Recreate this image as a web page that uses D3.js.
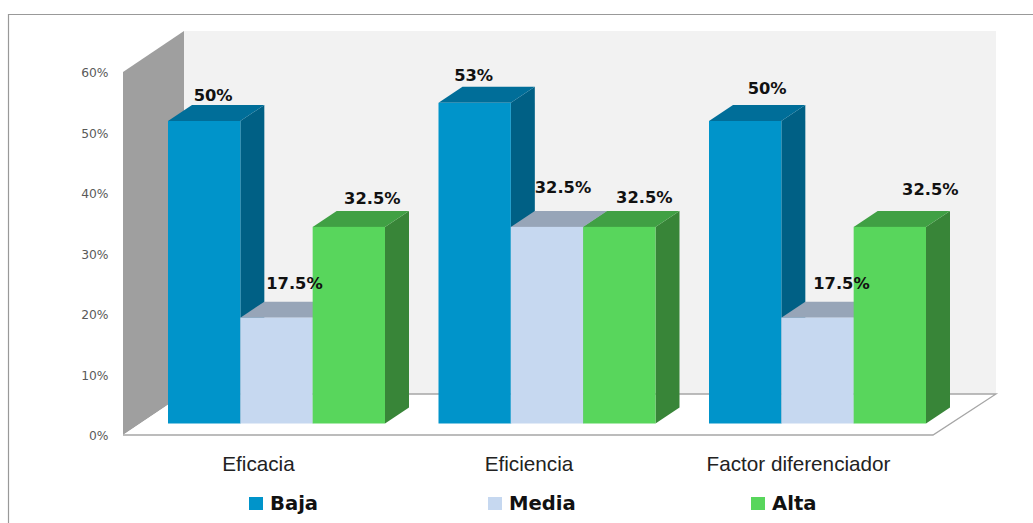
<!DOCTYPE html>
<html><head><meta charset="utf-8">
<script src="https://cdn.jsdelivr.net/npm/d3@7"></script>
<style>html,body{margin:0;padding:0;background:#fff;overflow:hidden}svg{display:block}</style>
</head><body><svg id="c" width="1033" height="523"></svg>
<script>
const categories = ["Eficacia", "Eficiencia", "Factor diferenciador"];
const seriesNames = ["Baja", "Media", "Alta"];
const baja = [50, 53, 50];
const media = [17.5, 32.5, 17.5];
const alta = [32.5, 32.5, 32.5];
const labelText = [["50%","17.5%","32.5%"],["53%","32.5%","32.5%"],["50%","17.5%","32.5%"]];
const yTicks = [0,10,20,30,40,50,60];
const seriesValues = [baja, media, alta];

// styling and layout, separate from the data
const front = ["#0094CA","#C6D8F0","#58D65C"];
const topFace = ["#006E99","#97A5B8","#40A044"];
const sideFace = ["#006085","#8496AE","#388538"];
const labelNudge = [[[9,-25.5],[18,-34],[23.5,-28]],[[-1,-27],[16,-39],[25,-29]],[[22,-32.5],[24,-34],[40.5,-37]]];
const legendX = [249,488,751];

const svg = d3.select("#c");
const y = d3.scaleLinear().domain([0,60]).range([435,72]);
const x0 = d3.scaleBand().domain(categories).range([141.25,952.75]);
const x1 = d3.scaleBand().domain(seriesNames).range([26.75,243.75]);
const depthX = 24, depthY = 16, baseLift = 11.5;
const wallX = 61, wallY = 41, floorEnd = 933, backEnd = 996;
const poly = p => p.map(q => q.join(",")).join(" ");

// border (open on the right and bottom)
svg.append("path").attr("d","M8.5,523V14.5H1033").attr("fill","none").attr("stroke","#999").attr("stroke-width",1.2);

// back wall
svg.append("rect").attr("x",123+wallX).attr("y",y(60)-wallY)
  .attr("width",backEnd-123-wallX).attr("height",y(0)-y(60)).attr("fill","#F2F2F2");
// side wall
svg.append("polygon").attr("fill","#9F9F9F").attr("points",poly([[123,y(60)],[123+wallX,y(60)-wallY],[123+wallX,y(0)-wallY],[123,y(0)]]));
// floor
svg.append("polygon").attr("fill","#fff").attr("points",poly([[123,y(0)],[123+wallX,y(0)-wallY],[backEnd,y(0)-wallY],[floorEnd,y(0)]]));
svg.append("path").attr("fill","none").attr("stroke","#A6A6A6").attr("stroke-width",1.3)
  .attr("d",`M${123+wallX},${y(0)-wallY}H${backEnd}L${floorEnd},${y(0)}H123`);

// y axis
const yAxis = svg.append("g").attr("transform","translate(108.5,1)")
  .call(d3.axisLeft(y).tickValues(yTicks).tickFormat(d=>d+"%").tickSize(0).tickPadding(0));
yAxis.select(".domain").remove();
yAxis.selectAll("text").attr("font-family","'DejaVu Sans'").attr("font-size",12.3).attr("fill","#595959");

// bars
categories.forEach((c,ci)=>{
  seriesNames.forEach((s,si)=>{
    const v = seriesValues[si][ci];
    const l = x0(c)+x1(s), r = l+x1.bandwidth();
    const b = y(0)-baseLift, t = y(v)-baseLift;
    const g = svg.append("g").attr("class","bar");
    g.append("polygon").attr("fill",sideFace[si]).attr("points",poly([[r,t],[r+depthX,t-depthY],[r+depthX,b-depthY],[r,b]]));
    g.append("polygon").attr("fill",topFace[si]).attr("points",poly([[l,t],[l+depthX,t-depthY],[r+depthX,t-depthY],[r,t]]));
    g.append("rect").attr("x",l).attr("y",t).attr("width",r-l).attr("height",b-t).attr("fill",front[si]);
  });
});

// data labels
categories.forEach((c,ci)=>{
  seriesNames.forEach((s,si)=>{
    const v = seriesValues[si][ci];
    const [dx,dy] = labelNudge[ci][si];
    svg.append("text").attr("x",x0(c)+x1(s)+x1.bandwidth()/2+dx).attr("y",y(v)-baseLift+dy)
      .attr("text-anchor","middle").attr("dominant-baseline","central")
      .attr("font-family","'DejaVu Sans'").attr("font-weight","bold").attr("font-size",16.3).attr("fill","#111")
      .text(labelText[ci][si]);
  });
});

// category labels
categories.forEach(c=>{
  svg.append("text").attr("x",x0(c)+x0.bandwidth()/2-18+(c==="Factor diferenciador"?-1:0)).attr("y",463)
    .attr("text-anchor","middle").attr("dominant-baseline","central")
    .attr("font-family","'Liberation Sans'").attr("font-size",20.7).attr("fill","#222").text(c);
});

// legend
seriesNames.forEach((s,i)=>{
  svg.append("rect").attr("x",legendX[i]).attr("y",497).attr("width",14).attr("height",13).attr("fill",front[i]);
  svg.append("text").attr("x",legendX[i]+21).attr("y",503.5).attr("dominant-baseline","central")
    .attr("font-family","'DejaVu Sans'").attr("font-weight","bold").attr("font-size",19.6).attr("fill","#111").text(s);
});
</script></body></html>
